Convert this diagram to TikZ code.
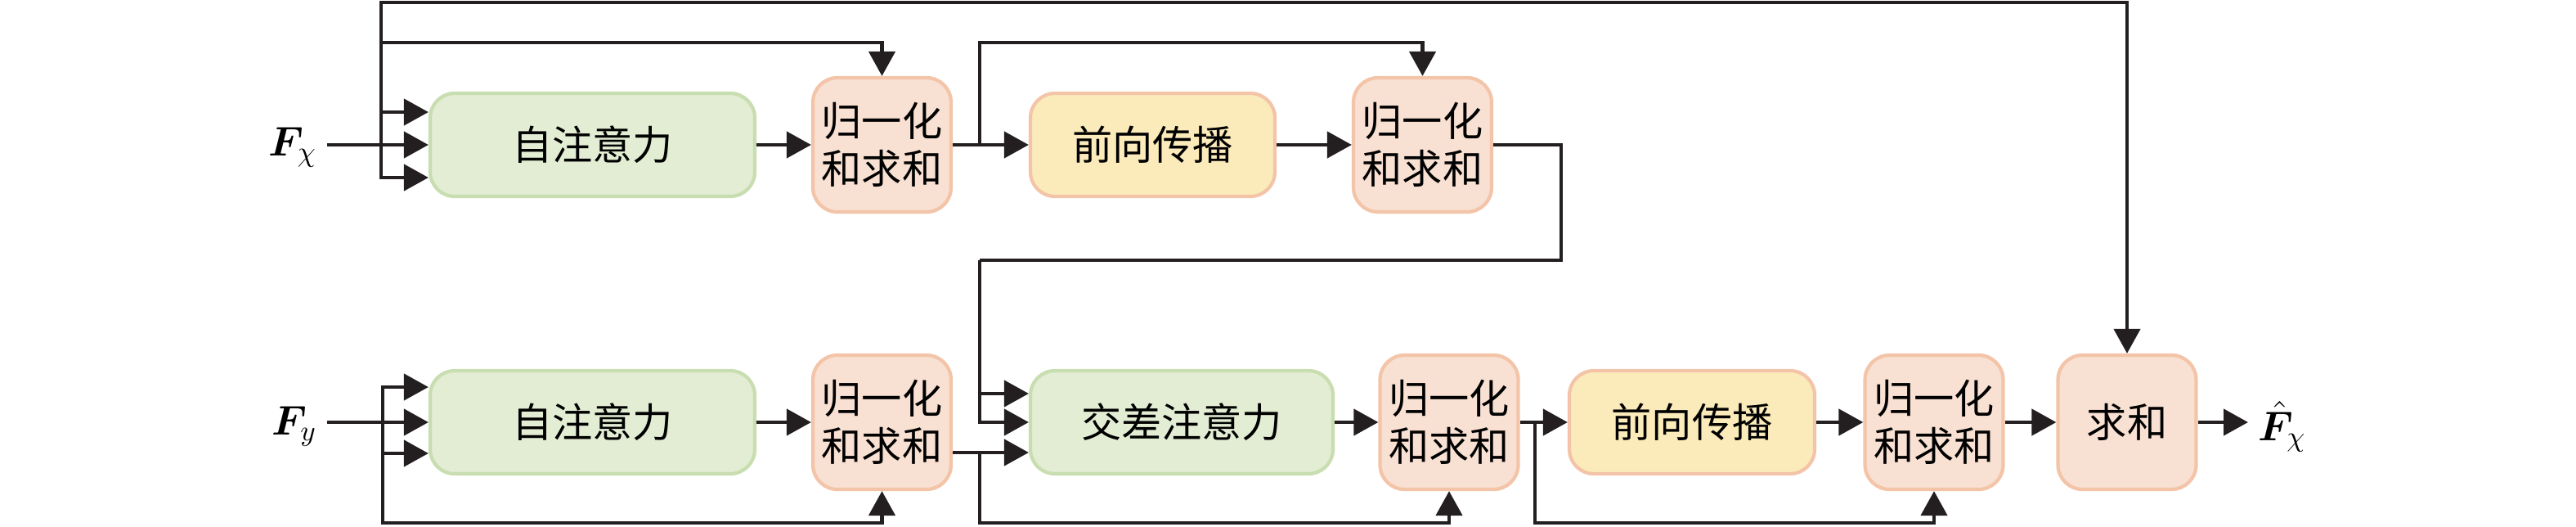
\documentclass[tikz,border=0pt]{standalone}
\usepackage{fontspec}
\usepackage{amsmath,amssymb}
\usepackage{bm}
\newfontfamily\cjk{Noto Sans CJK SC}
\usepackage{tikz}
\usetikzlibrary{arrows.meta}
\definecolor{lineblk}{HTML}{231F20}
\definecolor{attnfill}{HTML}{E2EDD3}
\definecolor{attnline}{HTML}{C8DDB0}
\definecolor{normfill}{HTML}{F8E0D2}
\definecolor{normline}{HTML}{F3C4A8}
\definecolor{ffnfill}{HTML}{FBEBBA}

\begin{document}
\begin{tikzpicture}[
  conn/.style={line width=1.25pt, draw=lineblk},
  arr/.style={conn, -{Triangle[length=3mm,width=3.2mm]}},
  block/.style={rounded corners=3mm, line width=1.2pt, inner sep=0pt, minimum height=1.26cm, font=\cjk\fontsize{14}{16.5}\selectfont},
  attnbox/.style={block, draw=attnline, fill=attnfill, minimum width=3.97cm},
  ffnbox/.style={block, draw=normline, fill=ffnfill, minimum width=2.99cm},
  normbox/.style={block, draw=normline, fill=normfill, minimum width=1.69cm, minimum height=1.64cm, align=center},
  lbl/.style={font=\fontsize{14}{17}\selectfont},
]
\useasboundingbox (0,0) rectangle (31.5,6.43);
% Inputs and Output
\node[lbl, anchor=base east] (fx) at (4.0, 4.53) {$\boldsymbol{F}_{\chi}$};
\node[lbl, anchor=base east] (fy) at (4.0, 1.12) {$\boldsymbol{F}_{y}$};
\node[lbl, anchor=base west] (fhat) at (27.49, 1.05) {$\hat{\boldsymbol{F}}_{\chi}$};
% Upper Row
\node[attnbox] (sa1) at (7.245, 4.66) {自注意力};
\node[normbox] (ln1) at (10.785, 4.66) {归一化\\和求和};
\node[ffnbox] (ff1) at (14.095, 4.66) {前向传播};
\node[normbox] (ln2) at (17.395, 4.66) {归一化\\和求和};
% Lower Row
\node[attnbox] (sa2) at (7.245, 1.27) {自注意力};
\node[normbox] (ln3) at (10.785, 1.27) {归一化\\和求和};
\node[attnbox, minimum width=3.70cm] (ca) at (14.45, 1.27) {交差注意力};
\node[normbox] (ln4) at (17.72, 1.27) {归一化\\和求和};
\node[ffnbox, minimum width=3.00cm] (ff2) at (20.69, 1.27) {前向传播};
\node[normbox] (ln5) at (23.65, 1.27) {归一化\\和求和};
\node[normbox] (sum) at (26.01, 1.27) {求和};
% Branch Points
\coordinate (b1) at (4.66, 4.66);
\coordinate (b2) at (11.98, 4.66);
\coordinate (t1) at (19.09, 3.25);
\coordinate (b3) at (11.98, 3.25);
\coordinate (b5) at (4.68, 1.27);
\coordinate (b4) at (11.98, 0.90);
\coordinate (b6) at (18.77, 1.27);
%
% Upper Row Edges:
 \draw[arr] (fx.east |- sa1.west) -- (sa1.west);
 \draw[arr] (b1) |- ([yshift=4mm]sa1.west);
 \draw[arr] (b1) |- ([yshift=-4mm]sa1.west);
 \draw[arr] (b1) -- ++(0,1.74) -| (sum.north);
 \draw[arr] (b1) -- ++(0,1.25) -| (ln1.north);
 \draw[arr] (sa1.east) -- (ln1.west);
 \draw[arr] (ln1.east) -- (ff1.west);
 \draw[arr] (b2) -- ++(0,1.25) -| (ln2.north);
 \draw[arr] (ff1.east) -- (ln2.west);
 \draw[conn] (ln2.east) -| (t1) -- (b3);
 \draw[arr] (b3) |- (ca.west);
 \draw[arr] (b3) |- ([yshift=3.5mm]ca.west);
% Lower Row Edges:
 \draw[arr] (fy.east |- sa2.west) -- (sa2.west);
 \draw[arr] (b5) |- ([yshift=4.3mm]sa2.west);
 \draw[arr] (b5) |- ([yshift=-3.8mm]sa2.west);
 \draw[arr] (b5) -- ++(0,-1.23) -| (ln3.south);
 \draw[arr] (sa2.east) -- (ln3.west);
 \draw[arr] ([yshift=-3.7mm]ln3.east) -- ([yshift=-3.7mm]ca.west);
 \draw[arr] (b4) -- ++(0,-0.86) -| (ln4.south);
 \draw[arr] (ca.east) -- (ln4.west);
 \draw[arr] (ln4.east) -- (ff2.west);
 \draw[arr] (b6) -- ++(0,-1.23) -| (ln5.south);
 \draw[arr] (ff2.east) -- (ln5.west);
 \draw[arr] (ln5.east) -- (sum.west);
 \draw[arr] (sum.east) -- (fhat.west |- sum.east);
\end{tikzpicture}
\end{document}
